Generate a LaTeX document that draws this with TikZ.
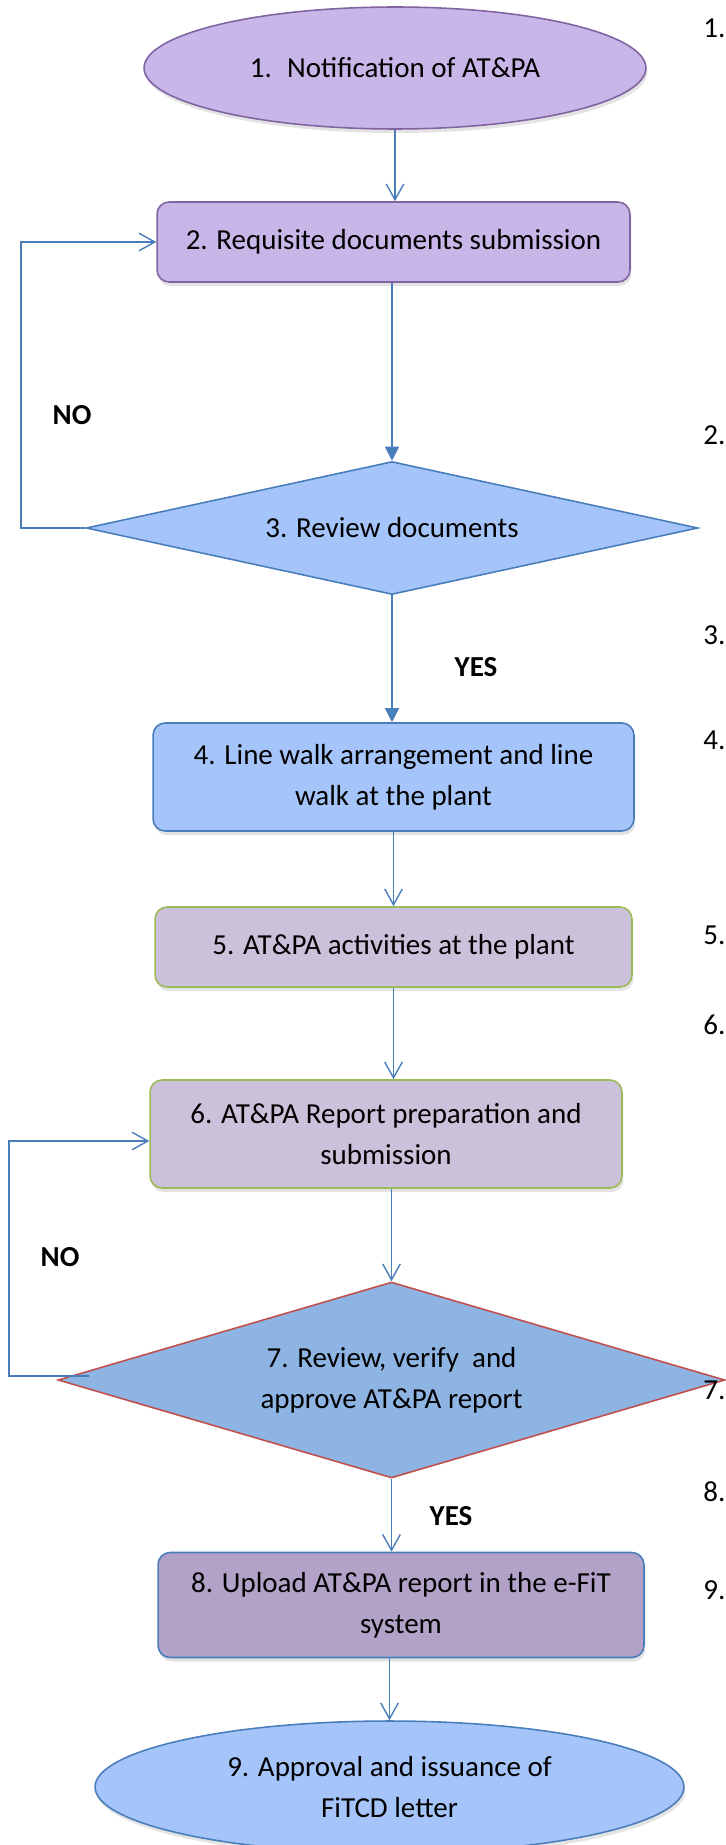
\documentclass[tikz,border=0pt]{standalone}
\usepackage{fontspec}
\setmainfont{Carlito}
\usetikzlibrary{shapes.geometric,arrows.meta,shadows}

\definecolor{lilacfill}{RGB}{201,182,232}
\definecolor{lilacline}{RGB}{128,100,162}
\definecolor{skyfill}{RGB}{165,196,250}
\definecolor{skyline}{RGB}{74,126,187}
\definecolor{mauvefill}{RGB}{204,193,218}
\definecolor{leafline}{RGB}{155,187,89}
\definecolor{steelfill}{RGB}{142,180,227}
\definecolor{brickline}{RGB}{192,80,77}
\definecolor{plumfill}{RGB}{178,162,199}

\begin{document}
\begin{tikzpicture}[x=0.02cm, y=-0.02cm,
    font=\fontsize{16.5}{23.3}\selectfont,
    every node/.style={align=center, inner sep=0pt},
    shade/.style={drop shadow={shadow xshift=0.03cm, shadow yshift=-0.08cm, opacity=0.22}},
    stepbox/.style={rectangle, rounded corners=0.24cm, line width=0.9pt, shade},
    endoval/.style={ellipse, line width=0.9pt, shade},
    choice/.style={diamond, line width=0.9pt},
    flow/.style={color=skyline, line width=0.8pt, -{Straight Barb[length=9pt,width=10pt]}},
    flowfill/.style={color=skyline, line width=0.8pt, -{Triangle[length=8pt,width=8pt]}},
    answer/.style={font=\fontsize{16.5}{20}\selectfont\bfseries},
    marker/.style={anchor=west}]

    \useasboundingbox (0,0) rectangle (725,1845);

    % shapes
    \node[endoval, fill=lilacfill, draw=lilacline, minimum width=10.04cm, minimum height=2.44cm] (notify) at (395,68) {\raisebox{-0.12cm}{1.~ Notification of AT\&PA}};
    \node[stepbox, fill=lilacfill, draw=lilacline, minimum width=9.46cm, minimum height=1.6cm] (docs) at (393.5,242) {2. Requisite documents submission};
    \node[choice, fill=skyfill, draw=skyline, aspect=4.6, minimum width=12.24cm, minimum height=2.66cm] (review) at (392,528) {3. Review documents};
    \node[stepbox, fill=skyfill, draw=skyline, minimum width=9.62cm, minimum height=2.16cm] (walk) at (393.5,777) {4. Line walk arrangement and line\\walk at the plant};
    \node[stepbox, fill=mauvefill, draw=leafline, minimum width=9.54cm, minimum height=1.6cm] (activity) at (393.5,947) {5. AT\&PA activities at the plant};
    \node[stepbox, fill=mauvefill, draw=leafline, minimum width=9.44cm, minimum height=2.16cm] (report) at (386,1134) {6. AT\&PA Report preparation and\\submission};
    \node[choice, fill=steelfill, draw=brickline, aspect=3.4, minimum width=13.34cm, minimum height=3.92cm] (verify) at (391.5,1380) {7. Review, verify~ and\\approve AT\&PA report};
    \node[stepbox, fill=plumfill, draw=skyline, minimum width=9.72cm, minimum height=2.1cm] (upload) at (401,1605) {8. Upload AT\&PA report in the e-FiT\\system};
    \node[endoval, fill=skyfill, draw=skyline, minimum width=11.78cm, minimum height=2.64cm] (issue) at (389.5,1787) {9. Approval and issuance of\\FiTCD letter};

    % connectors
    \draw[flow] (notify.south) -- (notify.south |- docs.north);
    \draw[flowfill] (docs.south -| review.north) -- (review.north);
    \draw[flowfill] (review.south) -- (review.south |- walk.north);
    \draw[flow] (walk.south) -- (walk.south |- activity.north);
    \draw[flow] (activity.south) -- (activity.south |- report.north);
    \draw[flow] (report.south -| verify.north) -- (verify.north);
    \draw[flow] (verify.south) -- (verify.south |- upload.north);
    \draw[flow] (upload.south -| issue.north) -- (issue.north);

    % no loops
    \coordinate (backA) at (21,0);
    \coordinate (backB) at (9,0);
    \draw[flow] (review.west) -- (review.west -| backA) |- (docs.west);
    \draw[flow] ([xshift=0.64cm,yshift=0.08cm]verify.west) -- ([yshift=0.08cm]verify.west -| backB) |- ([yshift=-0.14cm]report.west);

    \node[answer] (noA) at (72,415) {NO};
    \node[answer] (yesA) at (476,667) {YES};
    \node[answer] (noB) at (60,1257) {NO};
    \node[answer] (yesB) at (451,1516) {YES};

    % list numbers on the right edge
    \node[marker] (m1) at (703,28) {1.};
    \node[marker] (m2) at (703,435) {2.};
    \node[marker] (m3) at (703,635) {3.};
    \node[marker] (m4) at (703,740) {4.};
    \node[marker] (m5) at (703,935) {5.};
    \node[marker] (m6) at (703,1025) {6.};
    \node[marker] (m7) at (703,1390) {7.};
    \node[marker] (m8) at (703,1492) {8.};
    \node[marker] (m9) at (703,1590) {9.};

\end{tikzpicture}
\end{document}
